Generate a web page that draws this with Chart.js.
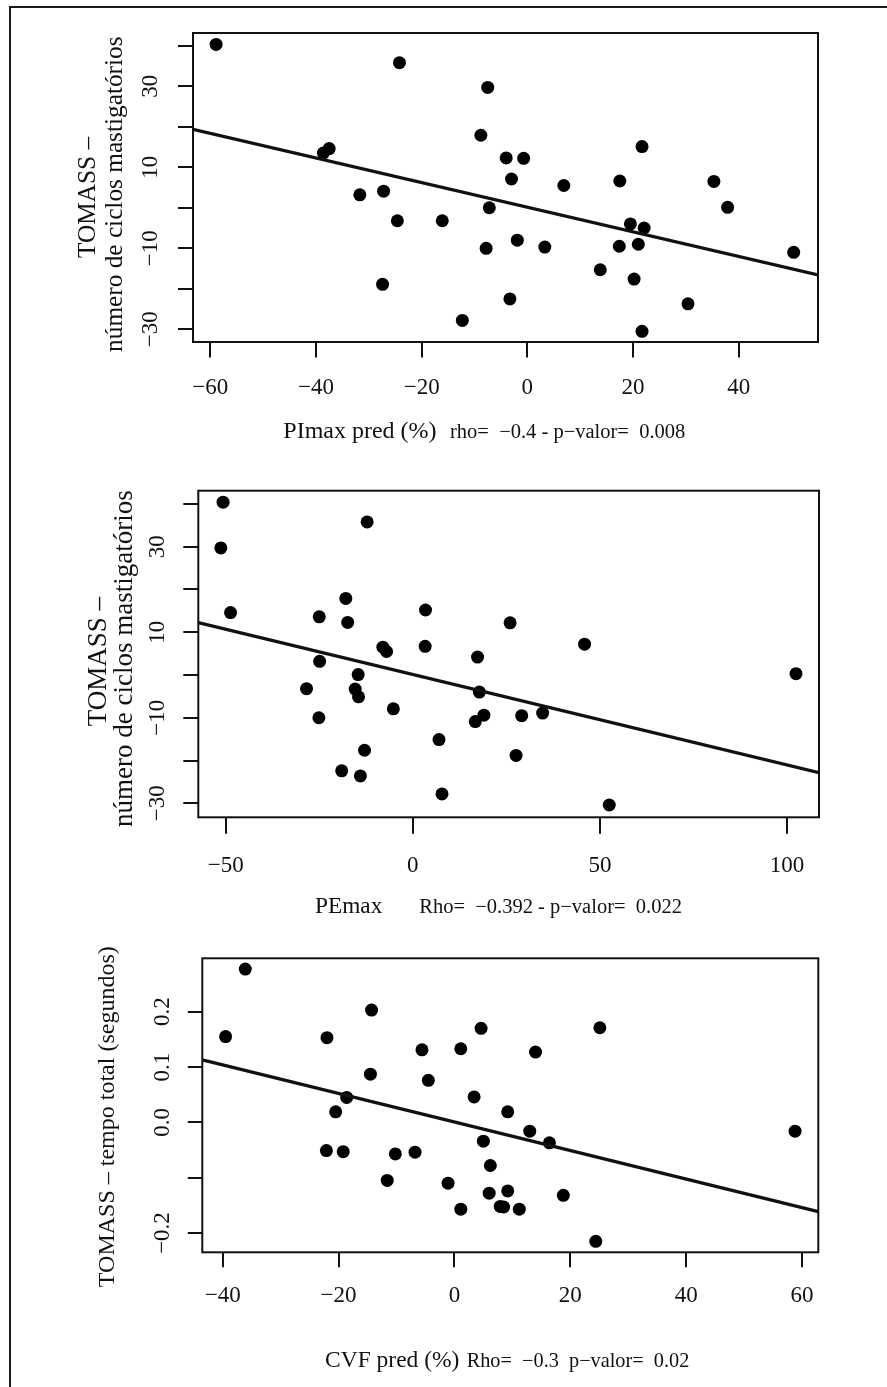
<!DOCTYPE html>
<html><head><meta charset="utf-8">
<script src="https://cdn.jsdelivr.net/npm/chart.js@4.4.1/dist/chart.umd.min.js"></script>
<style>
html,body{margin:0;padding:0;background:#fff;overflow:hidden;}
#page{position:relative;width:887px;height:1387px;overflow:hidden;}
#frame{position:absolute;left:9px;top:6px;width:1000px;height:2000px;border:2px solid #1a1a1a;box-sizing:border-box;}
canvas{position:absolute;left:0;}
</style></head><body>
<div id="page">
<div id="frame"></div>
<canvas id="c1" width="887" height="460" style="top:0px"></canvas>
<canvas id="c2" width="887" height="470" style="top:460px"></canvas>
<canvas id="c3" width="887" height="457" style="top:930px"></canvas>
</div>
<script>
// ---------- Panel 1: PImax pred (%) vs TOMASS – número de ciclos mastigatórios ----------
const pimaxPred = [-58.9, -24.2, -38.6, -37.5, -31.7, -27.2, -24.6, -16.1, -27.4, -7.5, -8.8, -4.0, -0.7, -3.0, 6.9, -7.2, -1.9, -7.8, 3.3, 13.8, 20.2, -3.3, -12.3, 21.7, 17.5, 19.5, 22.1, 17.4, 21.0, 35.3, 37.9, 50.4, 30.4, 21.7];
const ciclosVsPimax = [40.3, 35.8, 13.5, 14.6, 3.2, 4.1, -3.2, -3.2, -18.9, 29.7, 17.9, 12.3, 12.2, 7.1, 5.5, 0.0, -8.0, -10.0, -9.7, -15.3, -17.6, -22.5, -27.8, 15.1, 6.6, -4.0, -5.0, -9.5, -9.0, 6.5, 0.1, -11.0, -23.7, -30.5];
const pimaxXTicks = [-60, -40, -20, 0, 20, 40];
const pimaxXLabels = ['\u221260', '\u221240', '\u221220', '0', '20', '40'];
const ciclosYTicks = [-30, -20, -10, 0, 10, 20, 30, 40];
const ciclosYLabels = ['\u221230', '', '\u221210', '', '10', '', '30', ''];
const pimaxIntercept = 0.13;
const pimaxSlope = -0.304;

// ---------- Panel 2: PEmax vs TOMASS – número de ciclos mastigatórios ----------
const pemax = [-50.7, -51.3, -48.7, -12.2, -25.0, -17.9, -17.4, -8.0, -7.0, 3.4, 3.3, -24.9, -14.6, -28.4, -15.4, -14.5, -5.2, -25.1, 7.0, -12.9, -19.0, -14.0, 7.8, 26.0, 45.9, 102.4, 17.3, 17.8, 19.0, 16.7, 29.1, 34.7, 27.6, 52.5];
const ciclosVsPemax = [40.4, 29.7, 14.6, 35.8, 13.6, 17.9, 12.3, 6.5, 5.5, 15.2, 6.7, 3.2, 0.1, -3.2, -3.3, -5.1, -7.9, -10.0, -15.1, -17.6, -22.4, -23.6, -27.8, 12.2, 7.2, 0.3, 4.2, -4.0, -9.4, -10.9, -9.5, -8.9, -18.8, -30.4];
const pemaxXTicks = [-50, 0, 50, 100];
const pemaxXLabels = ['\u221250', '0', '50', '100'];
const pemaxIntercept = 0.11;
const pemaxSlope = -0.2114;

// ---------- Panel 3: CVF pred (%) vs TOMASS – tempo total (segundos) ----------
const cvfPred = [-36.1, -39.5, -22.0, -14.3, -5.6, -14.5, -4.5, -18.6, -20.5, -22.1, -19.2, -10.2, -6.8, -11.6, -1.1, 4.6, 25.1, 1.1, 14.0, 3.4, 9.2, 13.0, 5.0, 16.4, 58.8, 6.2, 6.0, 9.2, 18.8, 1.1, 7.9, 8.5, 11.2, 24.4];
const tempoTotal = [0.277, 0.155, 0.153, 0.203, 0.131, 0.087, 0.076, 0.045, 0.019, -0.051, -0.053, -0.057, -0.054, -0.105, -0.110, 0.170, 0.171, 0.133, 0.127, 0.046, 0.019, -0.016, -0.034, -0.037, -0.016, -0.078, -0.128, -0.124, -0.132, -0.157, -0.152, -0.153, -0.157, -0.215];
const cvfXTicks = [-40, -20, 0, 20, 40, 60];
const cvfXLabels = ['\u221240', '\u221220', '0', '20', '40', '60'];
const tempoYTicks = [-0.2, -0.1, 0.0, 0.1, 0.2];
const tempoYLabels = ['\u22120.2', '', '0.0', '0.1', '0.2'];
const cvfIntercept = 0.0005;
const cvfSlope = -0.002579;

// ---------- rendering ----------
const FONT = '"Liberation Serif", "Times New Roman", Times, serif';
const INK = '#111';
Chart.defaults.font.family = FONT;
Chart.defaults.color = INK;

const rDecor = {
  id: 'rDecor',
  afterDraw(chart, args, o) {
    const ctx = chart.ctx;
    const a = chart.chartArea;
    ctx.save();
    ctx.strokeStyle = INK;
    ctx.lineWidth = 2;
    ctx.strokeRect(a.left, a.top, a.right - a.left, a.bottom - a.top);
    ctx.fillStyle = INK;
    ctx.textBaseline = 'alphabetic';
    // y-axis title lines (rotated)
    (o.yTitle || []).forEach(t => {
      ctx.save();
      ctx.font = t.size + 'px ' + FONT;
      ctx.translate(t.x, t.y);
      ctx.rotate(-Math.PI / 2);
      ctx.textAlign = 'center';
      ctx.fillText(t.text, 0, 0);
      ctx.restore();
    });
    // x-axis title pieces
    (o.xTitle || []).forEach(t => {
      ctx.font = t.size + 'px ' + FONT;
      ctx.textAlign = 'left';
      ctx.fillText(t.text, t.x, t.y);
    });
    ctx.restore();
  }
};

function makePanel(id, p) {
  const canvas = document.getElementById(id);
  const W = canvas.width, H = canvas.height;
  const scatterData = p.xs.map((x, i) => ({x: x, y: p.ys[i]}));
  const fitData = [p.xMin, p.xMax].map(x => ({x: x, y: p.b0 + p.b1 * x}));
  new Chart(canvas, {
    type: 'scatter',
    data: {
      datasets: [
        {data: fitData, showLine: true, borderColor: INK, borderWidth: 3.3, pointRadius: 0, pointHoverRadius: 0, fill: false},
        {data: scatterData, pointRadius: 6.5, pointHoverRadius: 6.5, pointBackgroundColor: '#000', pointBorderWidth: 0, showLine: false}
      ]
    },
    options: {
      responsive: false,
      animation: false,
      events: [],
      layout: {autoPadding: false, padding: {left: 0, top: p.area.t, right: W - p.area.r, bottom: 0}},
      plugins: {
        legend: {display: false},
        tooltip: {enabled: false},
        rDecor: {yTitle: p.yTitle, xTitle: p.xTitle}
      },
      scales: {
        x: {
          type: 'linear', position: 'bottom', min: p.xMin, max: p.xMax,
          afterBuildTicks: ax => { ax.ticks = p.xTicks.map(v => ({value: v})); },
          afterFit: sc => { sc.height = H - p.area.b; },
          grid: {drawOnChartArea: false, drawTicks: true, tickLength: p.xTickLen, lineWidth: 2, color: INK},
          border: {display: false},
          ticks: {autoSkip: false, maxRotation: 0, minRotation: 0, padding: p.xPad, font: {size: 23, family: FONT}, color: INK,
                  callback: (v, i) => p.xLabels[i]}
        },
        y: {
          type: 'linear', position: 'left', min: p.yMin, max: p.yMax,
          afterBuildTicks: ax => { ax.ticks = p.yTicks.map(v => ({value: v})); },
          afterFit: sc => { sc.width = p.area.l; },
          grid: {drawOnChartArea: false, drawTicks: true, tickLength: p.yTickLen, lineWidth: 2, color: INK},
          border: {display: false},
          ticks: {autoSkip: false, minRotation: 90, maxRotation: 90, crossAlign: 'center', padding: p.yPad, font: {size: 23, family: FONT}, color: INK,
                  callback: (v, i) => p.yLabels[i]}
        }
      }
    },
    plugins: [rDecor]
  });
}

makePanel('c1', {
  xs: pimaxPred, ys: ciclosVsPimax, b0: pimaxIntercept, b1: pimaxSlope,
  area: {l: 193, t: 33, r: 818, b: 342},
  xMin: -63.27, xMax: 55.0, yMin: -33.13, yMax: 43.13,
  xTicks: pimaxXTicks, xLabels: pimaxXLabels, yTicks: ciclosYTicks, yLabels: ciclosYLabels,
  xTickLen: 15.5, xPad: 17, yTickLen: 15, yPad: 9.5,
  yTitle: [{text: 'TOMASS \u2013', x: 95, y: 197.5, size: 25.3},
           {text: 'número de ciclos mastigatórios', x: 121.7, y: 194.2, size: 25.3}],
  xTitle: [{text: 'PImax pred (%)', x: 283.3, y: 438.3, size: 24},
           {text: 'rho=  \u22120.4 - p\u2212valor=  0.008', x: 450, y: 438.3, size: 20.5}]
});

makePanel('c2', {
  xs: pemax, ys: ciclosVsPemax, b0: pemaxIntercept, b1: pemaxSlope,
  area: {l: 198.3, t: 30.7, r: 819, b: 357.3},
  xMin: -57.32, xMax: 108.55, yMin: -33.27, yMax: 43.09,
  xTicks: pemaxXTicks, xLabels: pemaxXLabels, yTicks: ciclosYTicks, yLabels: ciclosYLabels,
  xTickLen: 16.5, xPad: 17.9, yTickLen: 15, yPad: 7.5,
  yTitle: [{text: 'TOMASS \u2013', x: 106, y: 201.7, size: 27},
           {text: 'número de ciclos mastigatórios', x: 131.7, y: 198.7, size: 27}],
  xTitle: [{text: 'PEmax', x: 315, y: 453.3, size: 23.3},
           {text: 'Rho=  \u22120.392 - p\u2212valor=  0.022', x: 419.3, y: 453.3, size: 20.5}]
});

makePanel('c3', {
  xs: cvfPred, ys: tempoTotal, b0: cvfIntercept, b1: cvfSlope,
  area: {l: 202.3, t: 28.3, r: 818.3, b: 322.3},
  xMin: -43.52, xMax: 62.81, yMin: -0.2349, yMax: 0.2965,
  xTicks: cvfXTicks, xLabels: cvfXLabels, yTicks: tempoYTicks, yLabels: tempoYLabels,
  xTickLen: 15, xPad: 14.4, yTickLen: 14.5, yPad: 4.4,
  yTitle: [{text: 'TOMASS \u2013 tempo total (segundos)', x: 114, y: 186.7, size: 24}],
  xTitle: [{text: 'CVF pred (%)', x: 325, y: 437, size: 23.5},
           {text: 'Rho=  \u22120.3  p\u2212valor=  0.02', x: 466.7, y: 437, size: 20.3}]
});
</script>
</body></html>
